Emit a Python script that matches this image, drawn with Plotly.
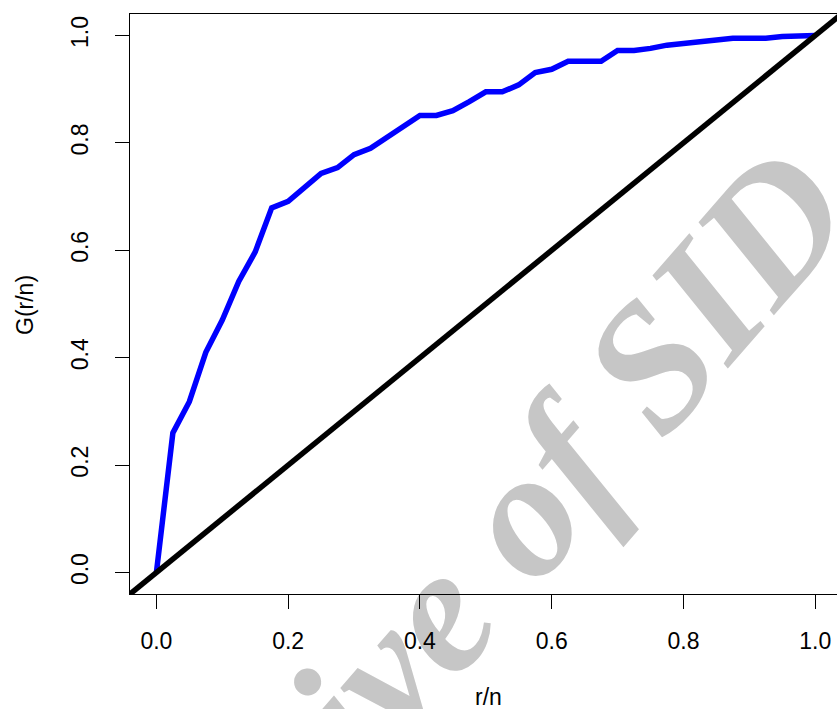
import plotly.graph_objects as go

# Data
r_n = [i / 40 for i in range(41)]
G = [0.0, 0.26, 0.318, 0.41, 0.47, 0.542, 0.597, 0.679, 0.691, 0.717,
     0.743, 0.754, 0.778, 0.790, 0.811, 0.831, 0.851, 0.851, 0.860, 0.877,
     0.895, 0.895, 0.908, 0.931, 0.937, 0.952, 0.952, 0.952, 0.972, 0.972,
     0.976, 0.982, 0.985, 0.988, 0.993, 0.995, 0.995, 0.995, 0.998, 1.0, 1.0]
diag = [-0.04, 1.04]
tick_vals = [0.0, 0.2, 0.4, 0.6, 0.8, 1.0]
x_title = "r/n"
y_title = "G(r/n)"
watermark = "Archive of SID"

W, H = 837, 709
L, T, B, R = 130, 14, 115, 0
pw, ph = W - L - R, H - T - B


def px2paper_x(px):
    return (px - L) / pw


def px2paper_y(py):
    return (H - B - py) / ph


FONT = "Liberation Sans, Arial, sans-serif"

fig = go.Figure()
fig.add_trace(go.Scatter(x=r_n, y=G, mode="lines",
                         line=dict(color="#0000ff", width=5.5),
                         showlegend=False, hoverinfo="skip"))
fig.add_trace(go.Scatter(x=diag, y=diag, mode="lines",
                         line=dict(color="#000000", width=5.5),
                         showlegend=False, hoverinfo="skip"))

# watermark, drawn beneath traces and axes as a shape label
cx, cy = px2paper_x(432), px2paper_y(586)
fig.add_shape(type="rect", xref="paper", yref="paper",
              x0=cx - 0.01, x1=cx + 0.01, y0=cy - 0.01, y1=cy + 0.01,
              line=dict(width=0, color="rgba(0,0,0,0)"),
              fillcolor="rgba(0,0,0,0)", layer="below",
              label=dict(text="<b><i>" + watermark + "</i></b>", textangle=-49,
                         textposition="middle center",
                         font=dict(family="Liberation Serif, Times New Roman, serif",
                                   size=180, color="#c6c6c6",
                                   weight="bold", style="italic")))

fig.add_annotation(text=x_title, xref="paper", yref="paper",
                   x=px2paper_x(488), y=px2paper_y(697),
                   xanchor="center", yanchor="middle", showarrow=False,
                   font=dict(family=FONT, size=23, color="#000000"))
fig.add_annotation(text=y_title, xref="paper", yref="paper",
                   x=px2paper_x(25), y=px2paper_y(305), textangle=-90,
                   xanchor="center", yanchor="middle", showarrow=False,
                   font=dict(family=FONT, size=23, color="#000000"))

x_per_unit = (815.2 - 156.4)
x0 = (L - 156.4) / x_per_unit
x1 = (W - R - 156.4) / x_per_unit

fig.update_layout(
    width=W, height=H,
    margin=dict(l=L, r=R, t=T, b=B, pad=0),
    paper_bgcolor="white", plot_bgcolor="white",
    font=dict(family=FONT, size=23, color="#000000"),
    xaxis=dict(range=[x0, x1], tickvals=tick_vals, tickformat=".1f",
               showgrid=False, zeroline=False, showline=True, mirror=True,
               linecolor="#000000", linewidth=1,
               ticks="outside", ticklen=14, tickwidth=1, tickcolor="#000000",
               ticklabelstandoff=12,
               tickfont=dict(family=FONT, size=23, color="#000000")),
    yaxis=dict(range=[-0.04, 1.04], tickvals=tick_vals, tickformat=".1f",
               showgrid=False, zeroline=False, showline=True, mirror=False,
               linecolor="#000000", linewidth=1,
               ticks="outside", ticklen=14, tickwidth=1, tickcolor="#000000",
               tickangle=-90, ticklabelstandoff=18,
               tickfont=dict(family=FONT, size=23, color="#000000")),
)

fig.write_html("out.html")
